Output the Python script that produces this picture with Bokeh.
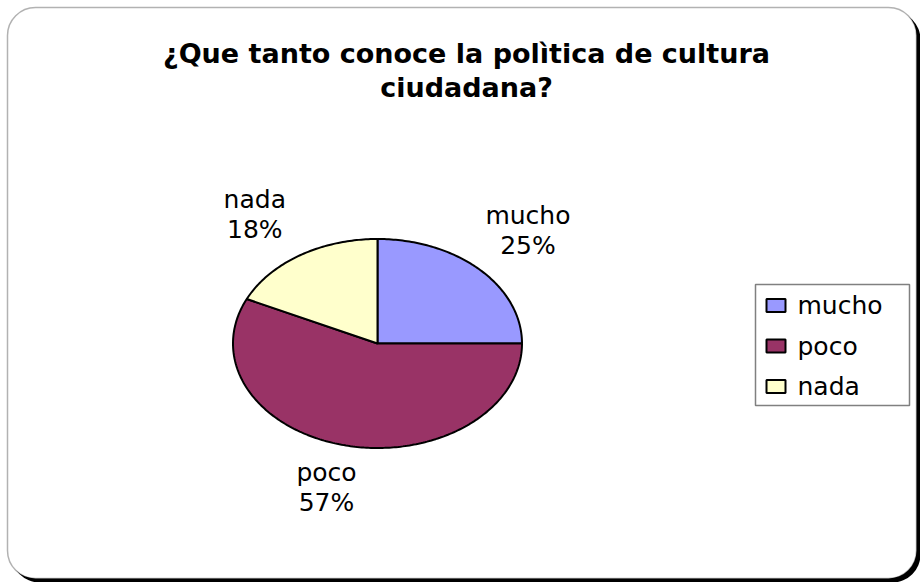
import numpy as np
from bokeh.plotting import figure
from bokeh.models import Range1d, BoxAnnotation
from bokeh.core.properties import value
from bokeh.embed import file_html
from bokeh.resources import INLINE

# ---- data ----
categories = ["mucho", "poco", "nada"]
percents = [25, 57, 18]
colors = ["#9999FF", "#993366", "#FFFFCC"]
title_lines = ["¿Que tanto conoce la polìtica de cultura", "ciudadana?"]

W, H = 920, 582
FONT = "DejaVu Sans"


def Y(y):
    return H - y


p = figure(width=W, height=H, x_range=Range1d(0, W), y_range=Range1d(0, H),
           output_backend="svg", toolbar_location=None,
           x_axis_type=None, y_axis_type=None, min_border=0,
           outline_line_color=None, background_fill_color="white",
           border_fill_color="white")
p.grid.visible = False

# chart area frame with shadow
shadow = BoxAnnotation(left=11, right=920, bottom=Y(582), top=Y(11),
                       fill_color="black", fill_alpha=1, line_color=None,
                       border_radius=28, level="underlay")
frame = BoxAnnotation(left=7, right=916, bottom=Y(578), top=Y(7),
                      fill_color="white", fill_alpha=1, line_color="black",
                      line_width=1.5, border_radius=28, level="underlay")
p.add_layout(shadow)
p.add_layout(frame)

# title
p.text(x=[466, 466], y=[Y(53), Y(87)], text=title_lines,
       text_font=value(FONT), text_font_style="bold", text_font_size="27px",
       text_align="center", text_baseline="alphabetic", text_color="black")

# pie (elliptical, starts at 12 o'clock, clockwise)
cx, cy, rx, ry = 377, Y(343), 144.5, 104.5
vals = np.array(percents, dtype=float)
fr = vals / vals.sum()
ends = np.cumsum(fr)
starts = ends - fr
xs, ys = [], []
mids = []
for s, e in zip(starts, ends):
    t = np.linspace(s, e, max(int((e - s) * 400), 8)) * 2 * np.pi
    xs.append([cx] + list(cx + rx * np.sin(t)) + [cx])
    ys.append([cy] + list(cy + ry * np.cos(t)) + [cy])
    mids.append((s + e) / 2 * 2 * np.pi)
p.patches(xs, ys, fill_color=colors, line_color="black", line_width=2)

# data labels
hw, hh = 36, 30
lx, ly, lt = [], [], []
for cat, pct, m in zip(categories, percents, mids):
    sx, sy = np.sin(m), np.cos(m)
    ax = cx + rx * 1.12 * sx
    ay = cy + ry * 1.12 * sy
    bx = ax + hw * np.clip(sx * 2, -1, 1)
    by = ay + hh * np.clip(sy * 2, -1, 1)
    lx += [bx, bx]
    ly += [by + 15, by - 15]
    lt += [cat, f"{pct}%"]
p.text(x=lx, y=ly, text=lt, text_font=value(FONT), text_font_size="25px",
       text_align="center", text_baseline="middle", text_color="black")

# legend
lg_left, lg_right, lg_top, lg_bottom = 755, 909, 284, 405
p.quad(left=[lg_left], right=[lg_right], top=[Y(lg_top)], bottom=[Y(lg_bottom)],
       fill_color="white", line_color="#808080", line_width=1.5)
ey = [Y(305 + 40.5 * i) for i in range(len(categories))]
p.quad(left=[766] * 3, right=[785] * 3,
       top=[y + 6.5 for y in ey], bottom=[y - 6.5 for y in ey],
       fill_color=colors, line_color="black", line_width=2)
p.text(x=[797] * 3, y=ey, text=categories, text_font=value(FONT),
       text_font_size="25px", text_align="left", text_baseline="middle",
       text_color="black")

open("out.html", "w").write(file_html(p, INLINE))
